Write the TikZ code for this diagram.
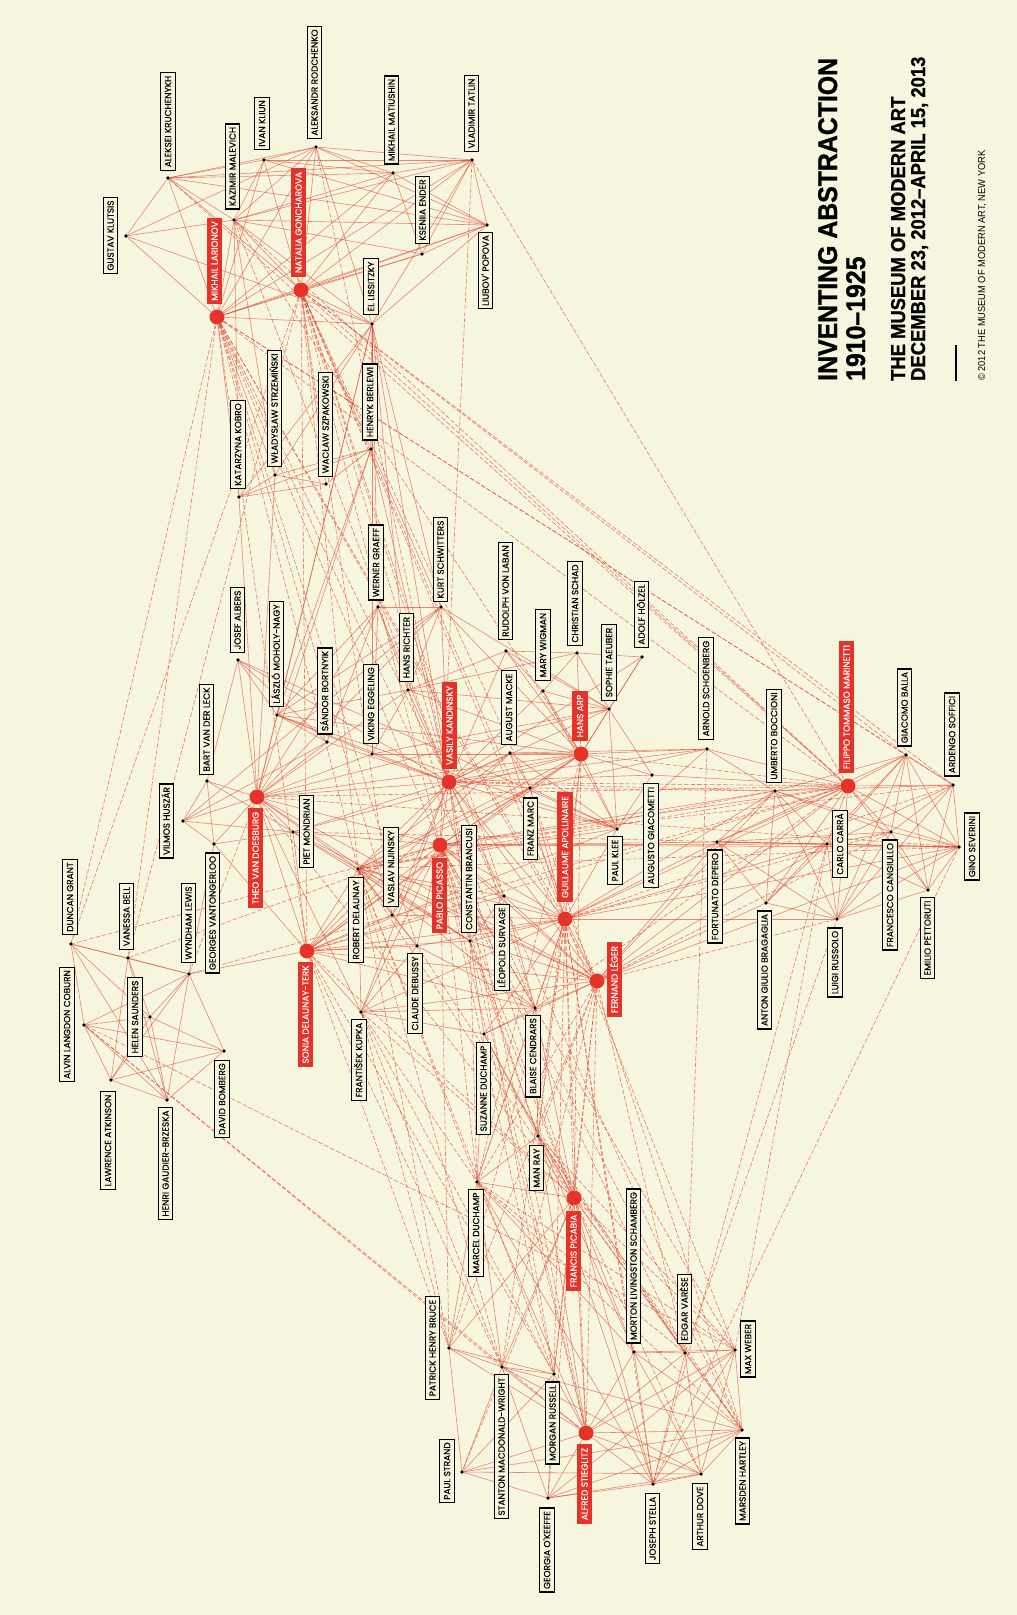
\documentclass[tikz,border=0pt]{standalone}
\usepackage{fontspec}
\usetikzlibrary{backgrounds}
\newfontfamily\labfont[FakeBold=0.35]{Poppins}
\newfontfamily\titlefont[FakeStretch=0.93]{Liberation Sans}
\newfontfamily\titleheavy[FakeStretch=0.92,FakeBold=1.1]{Liberation Sans Bold}
\definecolor{bgc}{HTML}{F6F5DE}
\definecolor{hubred}{HTML}{E5332A}
\definecolor{linered}{HTML}{E2412F}
\tikzset{
  pdot/.style={circle,fill=black,inner sep=0pt,minimum size=3.8pt},
  hdot/.style={circle,fill=hubred,inner sep=0pt,minimum size=15pt},
  plab/.style={draw=black,line width=1.3pt,fill=bgc,rotate=90,
    font=\labfont\fontsize{8.9}{9}\selectfont,text height=6.4pt,text depth=0pt,
    inner xsep=3pt,inner ysep=4pt},
  hlab/.style={fill=hubred,text=white,rotate=90,
    font=\labfont\fontsize{8.9}{9}\selectfont,text height=6.4pt,text depth=0pt,
    inner xsep=3.6pt,inner ysep=4.6pt},
  lnk/.style={draw=linered,line width=0.6pt,opacity=0.62},
  lnkd/.style={draw=linered,line width=0.6pt,opacity=0.68,dash pattern=on 4.5pt off 2pt},
  ttl/.style={anchor=base west,rotate=90,inner sep=0pt,text=black},
}
\newcommand\person[6]{\node[pdot] (#1) at (#2,#3) {}; \node[plab] (#1-l) at (#4,#5) {#6};}
\newcommand\hubperson[6]{\node[hdot] (#1) at (#2,#3) {}; \node[hlab] (#1-l) at (#4,#5) {#6};}
\begin{document}
\begin{tikzpicture}[x=1pt,y=-1pt]
\useasboundingbox (0,0) rectangle (1017,1615);
% ---------- people ----------
\person{klutsis}{126}{236}{110.5}{235.5}{GUSTAV KLUTSIS}
\person{kruch}{168}{178}{168}{121.5}{ALEKSEI KRUCHENYKH}
\person{malevich}{234}{220}{232.5}{166.5}{KAZIMIR MALEVICH}
\person{kliun}{264}{160}{262}{123.5}{IVAN KLIUN}
\person{rodch}{316}{147}{314.5}{82.5}{ALEKSANDR RODCHENKO}
\hubperson{larionov}{217}{317}{214.5}{261}{MIKHAIL LARIONOV}
\hubperson{gonch}{301}{290}{298.5}{222.5}{NATALIA GONCHAROVA}
\person{kobro}{239}{497}{238}{444.5}{KATARZYNA KOBRO}
\person{strzem}{275}{475}{274.5}{408.5}{WŁADYSŁAW STRZEMIŃSKI}
\person{szpak}{326}{484}{325.5}{424.5}{WACŁAW SZPAKOWSKI}
\person{matiush}{393}{173}{391.5}{120}{MIKHAIL MATIUSHIN}
\person{tatlin}{472}{160}{471.5}{113.5}{VLADIMIR TATLIN}
\person{ender}{422}{254}{422.5}{210}{KSENIIA ENDER}
\person{popova}{487}{225}{485.5}{270.5}{LIUBOV' POPOVA}
\person{lissitzky}{372}{324}{371}{286.5}{EL LISSITZKY}
\person{berlewi}{371}{449}{370}{402}{HENRYK BERLEWI}
\person{graeff}{378}{607}{376}{562.5}{WERNER GRAEFF}
\person{schwitters}{441}{607}{440.5}{559.5}{KURT SCHWITTERS}
\person{richter}{408}{690}{406.5}{647.5}{HANS RICHTER}
\person{eggeling}{372}{754}{371}{704}{VIKING EGGELING}
\person{laban}{506}{651}{505.5}{591}{RUDOLPH VON LABAN}
\person{wigman}{543}{691}{543}{645}{MARY WIGMAN}
\person{schad}{577}{653}{575}{603.5}{CHRISTIAN SCHAD}
\person{holzel}{642}{657}{641.5}{614.5}{ADOLF HÖLZEL}
\person{taeuber}{609}{709}{609}{662.5}{SOPHIE TAEUBER}
\hubperson{kandinsky}{449}{782}{449.5}{725.5}{VASILY KANDINSKY}
\person{macke}{510}{753}{509}{707.5}{AUGUST MACKE}
\hubperson{arp}{581}{754}{580}{716}{HANS ARP}
\person{marc}{530}{788}{530.5}{828.5}{FRANZ MARC}
\person{giacometti}{652}{775}{651}{835.5}{AUGUSTO GIACOMETTI}
\person{klee}{617}{829}{615}{860.5}{PAUL KLEE}
\hubperson{apollinaire}{565}{919}{565}{847}{GUILLAUME APOLLINAIRE}
\hubperson{picasso}{440}{845}{439.5}{895.5}{PABLO PICASSO}
\person{brancusi}{470}{941}{469}{879}{CONSTANTIN BRANCUSI}
\person{nijinsky}{392}{915}{391}{867}{VASLAV NIJINSKY}
\person{rdelaunay}{358}{869}{356}{920}{ROBERT DELAUNAY}
\person{survage}{504}{896}{502}{947.5}{LÉOPOLD SURVAGE}
\person{debussy}{417}{946}{415}{993.5}{CLAUDE DEBUSSY}
\person{kupka}{361}{1012}{359}{1060}{FRANTIŠEK KUPKA}
\person{cendrars}{535}{1008}{533}{1056}{BLAISE CENDRARS}
\person{sduchamp}{484}{1034}{483.5}{1088.5}{SUZANNE DUCHAMP}
\hubperson{leger}{597}{981}{614.5}{979.5}{FERNAND LÉGER}
\person{albers}{238}{660}{237.5}{620}{JOSEF ALBERS}
\person{moholy}{277}{715}{276.5}{654}{LÁSZLÓ MOHOLY-NAGY}
\person{bortnyik}{327}{742}{325}{691}{SÁNDOR BORTNYIK}
\person{leck}{207}{781}{206.5}{729.5}{BART VAN DER LECK}
\person{huszar}{183}{821}{166.5}{821}{VILMOS HUSZÁR}
\hubperson{doesburg}{257}{797}{255.5}{858}{THEO VAN DOESBURG}
\person{mondrian}{293}{832}{306.5}{831.5}{PIET MONDRIAN}
\person{vantong}{214}{844}{212.5}{913}{GEORGES VANTONGERLOO}
\person{grant}{71}{944}{70}{897}{DUNCAN GRANT}
\person{bell}{128}{958}{126.5}{916.5}{VANESSA BELL}
\person{lewis}{189}{974}{188.5}{923}{WYNDHAM LEWIS}
\person{coburn}{84}{1025}{67}{1024.5}{ALVIN LANGDON COBURN}
\person{saunders}{150}{1017}{135}{1017}{HELEN SAUNDERS}
\hubperson{sdelaunay}{307}{951}{305.5}{1014.5}{SONIA DELAUNAY-TERK}
\person{atkinson}{111}{1080}{108}{1140.5}{LAWRENCE ATKINSON}
\person{bomberg}{224}{1051}{222}{1099}{DAVID BOMBERG}
\person{gaudier}{167}{1100}{165.5}{1163.5}{HENRI GAUDIER-BRZESKA}
\person{schoenberg}{707}{749}{706}{688.5}{ARNOLD SCHOENBERG}
\person{boccioni}{775}{791}{774}{736}{UMBERTO BOCCIONI}
\hubperson{marinetti}{848}{786}{846.5}{707}{FILIPPO TOMMASO MARINETTI}
\person{balla}{906}{755}{904.5}{707.5}{GIACOMO BALLA}
\person{soffici}{953}{785}{952}{734.5}{ARDENGO SOFFICI}
\person{severini}{959}{847}{972}{846.5}{GINO SEVERINI}
\person{carra}{827}{844}{840}{844}{CARLO CARRÀ}
\person{cangiullo}{891}{832}{890}{895}{FRANCESCO CANGIULLO}
\person{pettoruti}{928}{890}{927.5}{938}{EMILIO PETTORUTI}
\person{depero}{717}{842}{715}{896.5}{FORTUNATO DEPERO}
\person{bragaglia}{766}{903}{764.5}{970}{ANTON GIULIO BRAGAGLIA}
\person{russolo}{837}{919}{835}{962.5}{LUIGI RUSSOLO}
\person{mduchamp}{477}{1182}{476}{1233}{MARCEL DUCHAMP}
\person{manray}{538}{1136}{536.5}{1168}{MAN RAY}
\hubperson{picabia}{574}{1198}{573.5}{1251}{FRANCIS PICABIA}
\person{bruce}{449}{1348}{432.5}{1348}{PATRICK HENRY BRUCE}
\person{mwright}{502}{1367}{501.5}{1446.5}{STANTON MACDONALD-WRIGHT}
\person{mrussell}{554}{1374}{552.5}{1423}{MORGAN RUSSELL}
\hubperson{stieglitz}{586}{1433}{584.5}{1484}{ALFRED STIEGLITZ}
\person{strand}{462}{1472}{447}{1471}{PAUL STRAND}
\person{okeeffe}{548}{1498}{547}{1550}{GEORGIA O'KEEFFE}
\person{schamberg}{634}{1352}{633.5}{1266}{MORTON LIVINGSTON SCHAMBERG}
\person{stella}{653}{1484}{652.5}{1528.5}{JOSEPH STELLA}
\person{varese}{685}{1353}{684.5}{1309}{EDGAR VARÈSE}
\person{weber}{735}{1350}{748}{1349}{MAX WEBER}
\person{hartley}{742}{1430}{742.5}{1481}{MARSDEN HARTLEY}
\person{dove}{701}{1474}{700}{1516.5}{ARTHUR DOVE}
% ---------- title ----------
\node[ttl,font=\titleheavy\fontsize{27}{27}\selectfont] (t1) at (837,381) {INVENTING ABSTRACTION};
\node[ttl,font=\titleheavy\fontsize{27}{27}\selectfont] (t2) at (865,381) {1910–1925};
\node[ttl,font=\titleheavy\fontsize{20}{20}\selectfont] (t3) at (905,381) {THE MUSEUM OF MODERN ART};
\node[ttl,font=\titleheavy\fontsize{20}{20}\selectfont] (t4) at (925,381) {DECEMBER 23, 2012–APRIL 15, 2013};
\coordinate (r1) at (956,345);
\coordinate (r2) at (956,381);
\draw[line width=1.2pt,black] (r1) -- (r2);
\node[ttl,font=\titlefont\fontsize{10}{10}\selectfont] (t5) at (985,381) {© 2012 THE MUSEUM OF MODERN ART, NEW YORK};
% ---------- connectors ----------
\begin{scope}[on background layer]
\fill[bgc] (0,0) rectangle (1017,1615);
\foreach \a/\b in {larionov/gonch,larionov/kruch,larionov/malevich,larionov/kliun,larionov/rodch,larionov/matiush,larionov/tatlin,larionov/popova,larionov/lissitzky,larionov/ender,larionov/klutsis,larionov/strzem,larionov/kobro,
gonch/kruch,gonch/malevich,gonch/kliun,gonch/rodch,gonch/matiush,gonch/tatlin,gonch/popova,gonch/ender,gonch/lissitzky,gonch/szpak,gonch/berlewi,
malevich/kruch,malevich/kliun,malevich/rodch,malevich/matiush,malevich/tatlin,malevich/popova,malevich/lissitzky,malevich/ender,malevich/klutsis,malevich/strzem,malevich/kobro,
kruch/kliun,kruch/rodch,kruch/matiush,kruch/klutsis,kruch/popova,kruch/tatlin,
kliun/rodch,kliun/popova,kliun/tatlin,kliun/matiush,
rodch/tatlin,rodch/popova,rodch/lissitzky,rodch/klutsis,rodch/matiush,
matiush/ender,matiush/tatlin,matiush/popova,
tatlin/popova,tatlin/ender,tatlin/lissitzky,
popova/lissitzky,popova/ender,klutsis/lissitzky,
lissitzky/berlewi,lissitzky/strzem,lissitzky/kobro,
kobro/strzem,strzem/szpak,kobro/szpak,strzem/berlewi,kobro/berlewi,szpak/berlewi,
lissitzky/schwitters,lissitzky/graeff,lissitzky/richter,lissitzky/moholy,lissitzky/doesburg,lissitzky/eggeling,lissitzky/kandinsky,
berlewi/schwitters,berlewi/doesburg,berlewi/moholy,berlewi/kandinsky,
doesburg/mondrian,doesburg/leck,doesburg/huszar,doesburg/vantong,doesburg/albers,doesburg/moholy,doesburg/bortnyik,doesburg/schwitters,doesburg/richter,doesburg/eggeling,doesburg/graeff,doesburg/arp,doesburg/taeuber,doesburg/kandinsky,doesburg/strzem,doesburg/kobro,doesburg/sdelaunay,doesburg/rdelaunay,doesburg/picasso,doesburg/brancusi,doesburg/kupka,doesburg/leger,
mondrian/leck,mondrian/huszar,mondrian/vantong,mondrian/kandinsky,mondrian/arp,mondrian/picasso,mondrian/brancusi,mondrian/sdelaunay,mondrian/rdelaunay,mondrian/leger,
leck/huszar,huszar/vantong,leck/vantong,huszar/bortnyik,huszar/schwitters,
albers/moholy,albers/kandinsky,albers/klee,albers/bortnyik,albers/leck,
moholy/kandinsky,moholy/klee,moholy/bortnyik,moholy/schwitters,moholy/graeff,moholy/richter,moholy/arp,moholy/eggeling,
bortnyik/kandinsky,bortnyik/graeff,
graeff/richter,graeff/eggeling,graeff/schwitters,graeff/kandinsky,
schwitters/arp,schwitters/richter,schwitters/taeuber,schwitters/kandinsky,
richter/eggeling,richter/arp,richter/taeuber,richter/schad,richter/kandinsky,richter/laban,
eggeling/arp,eggeling/taeuber,eggeling/kandinsky,
arp/taeuber,arp/schad,arp/laban,arp/wigman,arp/holzel,arp/giacometti,arp/kandinsky,arp/klee,arp/macke,arp/marc,arp/apollinaire,arp/picasso,arp/rdelaunay,arp/sdelaunay,
taeuber/laban,taeuber/wigman,taeuber/giacometti,taeuber/holzel,taeuber/kandinsky,taeuber/schad,taeuber/klee,
laban/wigman,laban/kandinsky,laban/schad,wigman/kandinsky,wigman/klee,wigman/schad,holzel/kandinsky,holzel/schad,
kandinsky/marc,kandinsky/macke,kandinsky/klee,kandinsky/schoenberg,kandinsky/giacometti,kandinsky/apollinaire,kandinsky/sdelaunay,kandinsky/rdelaunay,kandinsky/picasso,kandinsky/kupka,kandinsky/survage,kandinsky/nijinsky,kandinsky/brancusi,kandinsky/leger,
marc/macke,marc/klee,marc/rdelaunay,marc/sdelaunay,marc/apollinaire,marc/picasso,marc/schoenberg,
macke/klee,macke/rdelaunay,macke/sdelaunay,macke/apollinaire,macke/schoenberg,
klee/rdelaunay,klee/sdelaunay,klee/apollinaire,klee/giacometti,schoenberg/klee,schoenberg/arp,
apollinaire/picasso,apollinaire/leger,apollinaire/rdelaunay,apollinaire/sdelaunay,apollinaire/cendrars,apollinaire/survage,apollinaire/kupka,apollinaire/brancusi,apollinaire/nijinsky,apollinaire/debussy,apollinaire/sduchamp,
picasso/leger,picasso/brancusi,picasso/rdelaunay,picasso/sdelaunay,picasso/cendrars,picasso/survage,picasso/nijinsky,picasso/debussy,picasso/kupka,
leger/cendrars,leger/rdelaunay,leger/sdelaunay,leger/survage,leger/kupka,leger/brancusi,leger/sduchamp,
rdelaunay/sdelaunay,rdelaunay/cendrars,rdelaunay/kupka,rdelaunay/survage,rdelaunay/nijinsky,rdelaunay/debussy,rdelaunay/brancusi,
sdelaunay/cendrars,sdelaunay/kupka,sdelaunay/survage,sdelaunay/nijinsky,sdelaunay/debussy,sdelaunay/brancusi,sdelaunay/vantong,sdelaunay/lewis,
cendrars/survage,cendrars/kupka,cendrars/sduchamp,cendrars/debussy,survage/brancusi,kupka/sduchamp,kupka/debussy,brancusi/sduchamp,nijinsky/debussy,
picabia/mduchamp,picabia/sduchamp,picabia/manray,picabia/stieglitz,picabia/schamberg,picabia/stella,picabia/varese,picabia/cendrars,picabia/mrussell,picabia/mwright,picabia/bruce,
mduchamp/sduchamp,mduchamp/manray,mduchamp/stieglitz,mduchamp/bruce,mduchamp/mwright,mduchamp/schamberg,mduchamp/stella,
manray/stieglitz,manray/schamberg,manray/stella,manray/sduchamp,manray/cendrars,
stieglitz/okeeffe,stieglitz/strand,stieglitz/dove,stieglitz/hartley,stieglitz/weber,stieglitz/stella,stieglitz/schamberg,stieglitz/varese,stieglitz/mwright,stieglitz/mrussell,stieglitz/bruce,
okeeffe/strand,okeeffe/dove,okeeffe/hartley,okeeffe/stella,okeeffe/mwright,okeeffe/weber,
strand/dove,strand/hartley,strand/mwright,strand/mrussell,strand/bruce,
mwright/mrussell,mwright/bruce,mwright/dove,mwright/hartley,mrussell/bruce,mrussell/okeeffe,
schamberg/stella,schamberg/varese,schamberg/weber,schamberg/hartley,schamberg/dove,
stella/varese,stella/weber,stella/hartley,stella/dove,varese/weber,varese/hartley,varese/dove,weber/hartley,weber/dove,hartley/dove,
marinetti/boccioni,marinetti/balla,marinetti/soffici,marinetti/severini,marinetti/carra,marinetti/cangiullo,marinetti/pettoruti,marinetti/depero,marinetti/bragaglia,marinetti/russolo,marinetti/schoenberg,marinetti/giacometti,
boccioni/balla,boccioni/severini,boccioni/carra,boccioni/russolo,boccioni/soffici,boccioni/depero,boccioni/cangiullo,boccioni/bragaglia,boccioni/schoenberg,
balla/severini,balla/carra,balla/russolo,balla/depero,balla/cangiullo,balla/soffici,balla/bragaglia,balla/pettoruti,
soffici/severini,soffici/carra,soffici/cangiullo,soffici/pettoruti,soffici/russolo,
severini/carra,severini/russolo,severini/cangiullo,severini/pettoruti,severini/depero,
carra/russolo,carra/cangiullo,carra/depero,carra/pettoruti,carra/bragaglia,
cangiullo/pettoruti,cangiullo/depero,cangiullo/russolo,depero/russolo,depero/bragaglia,bragaglia/russolo,russolo/pettoruti,
apollinaire/boccioni,apollinaire/severini,apollinaire/carra,apollinaire/depero,apollinaire/russolo,apollinaire/marinetti,
leger/depero,leger/bragaglia,leger/carra,leger/severini,leger/marinetti,leger/boccioni,
picasso/severini,picasso/carra,picasso/boccioni,picasso/marinetti,picasso/depero,
lewis/saunders,lewis/atkinson,lewis/gaudier,lewis/bomberg,lewis/coburn,lewis/grant,lewis/bell,lewis/vantong,
grant/bell,grant/coburn,grant/saunders,grant/gaudier,bell/saunders,bell/gaudier,bell/atkinson,
saunders/atkinson,saunders/gaudier,saunders/bomberg,saunders/coburn,atkinson/gaudier,atkinson/bomberg,atkinson/coburn,gaudier/bomberg,gaudier/coburn,bomberg/coburn}
  \draw[lnk] (\a) -- (\b);
\foreach \a/\b in {larionov/grant,larionov/bell,gonch/grant,gonch/bell,
larionov/picasso,larionov/apollinaire,larionov/leger,larionov/sdelaunay,larionov/rdelaunay,larionov/cendrars,larionov/nijinsky,larionov/kandinsky,larionov/marinetti,larionov/balla,larionov/soffici,larionov/debussy,
gonch/picasso,gonch/apollinaire,gonch/leger,gonch/sdelaunay,gonch/rdelaunay,gonch/cendrars,gonch/nijinsky,gonch/kandinsky,gonch/marinetti,gonch/balla,gonch/marc,gonch/soffici,gonch/survage,
malevich/marinetti,kruch/marinetti,tatlin/marinetti,tatlin/picasso,malevich/kandinsky,rodch/kandinsky,malevich/arp,
doesburg/marinetti,doesburg/severini,mondrian/severini,doesburg/picabia,doesburg/lewis,
kandinsky/marinetti,kandinsky/boccioni,kandinsky/hartley,kandinsky/stieglitz,kandinsky/mrussell,marc/hartley,marc/boccioni,
arp/picabia,arp/mduchamp,arp/manray,arp/marinetti,
apollinaire/picabia,apollinaire/mduchamp,apollinaire/manray,apollinaire/soffici,apollinaire/cangiullo,apollinaire/weber,apollinaire/stieglitz,apollinaire/mrussell,apollinaire/mwright,apollinaire/bruce,apollinaire/stella,apollinaire/schamberg,
picasso/picabia,picasso/mduchamp,picasso/soffici,picasso/stieglitz,picasso/weber,picasso/hartley,picasso/mrussell,picasso/bruce,picasso/grant,picasso/bell,picasso/varese,picasso/manray,
leger/picabia,leger/mduchamp,leger/manray,leger/varese,leger/stieglitz,leger/mrussell,leger/mwright,leger/bruce,leger/russolo,leger/cangiullo,
rdelaunay/mduchamp,rdelaunay/picabia,rdelaunay/mrussell,rdelaunay/mwright,rdelaunay/bruce,rdelaunay/marinetti,rdelaunay/boccioni,rdelaunay/severini,
sdelaunay/bruce,sdelaunay/mrussell,sdelaunay/mwright,sdelaunay/picabia,sdelaunay/marinetti,
cendrars/mduchamp,cendrars/marinetti,
kupka/mduchamp,kupka/picabia,kupka/mwright,kupka/mrussell,kupka/bruce,
brancusi/mduchamp,brancusi/picabia,brancusi/manray,brancusi/stieglitz,
debussy/varese,schoenberg/varese,varese/russolo,weber/carra,stella/severini,stella/carra,coburn/stieglitz,coburn/weber,coburn/mwright,lewis/marinetti,
picabia/richter,picabia/weber,picabia/hartley,picabia/dove,picabia/okeeffe,picabia/strand,mduchamp/varese,mduchamp/weber,mduchamp/hartley,manray/varese,manray/weber,manray/hartley}
  \draw[lnkd] (\a) -- (\b);
\end{scope}
\end{tikzpicture}
\end{document}
